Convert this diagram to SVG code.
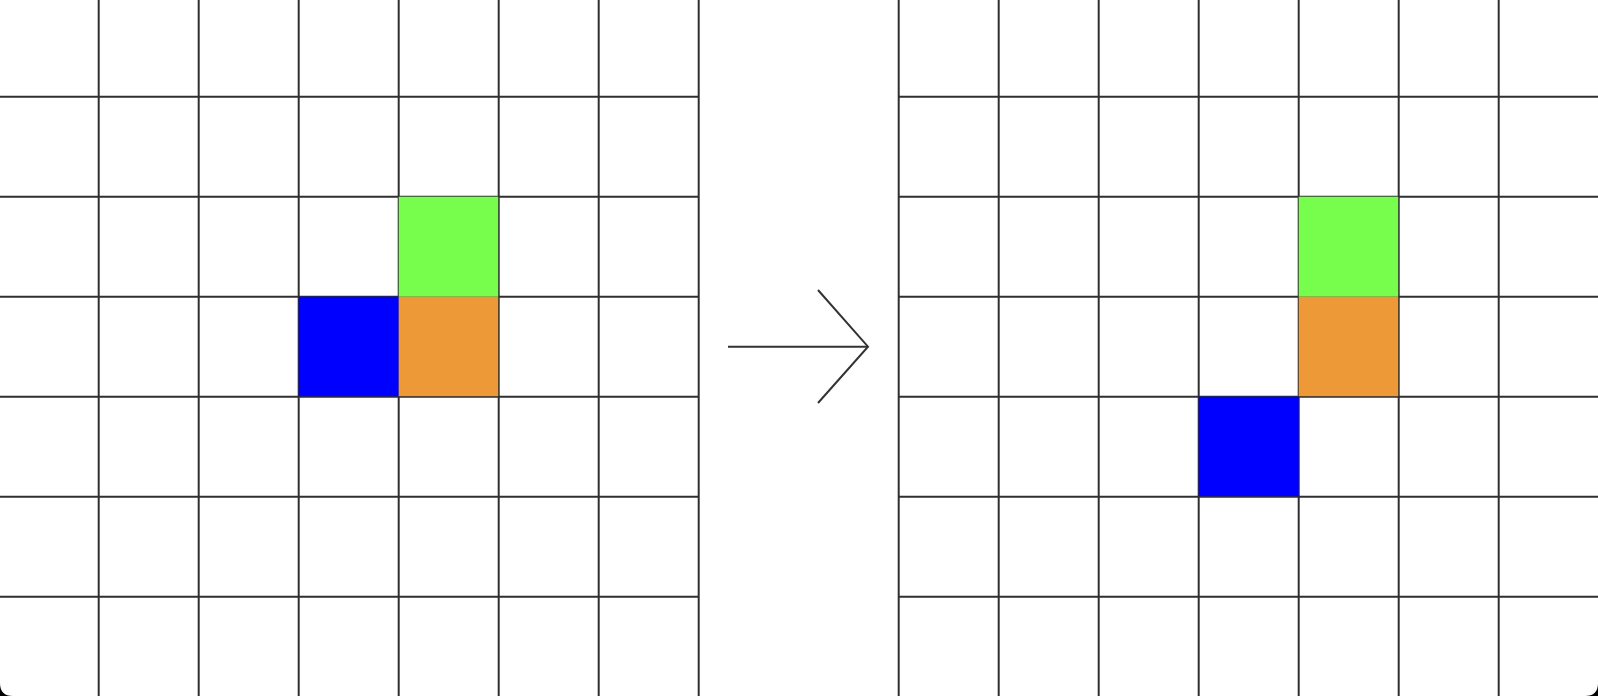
<svg xmlns="http://www.w3.org/2000/svg" width="1598" height="696" viewBox="0 0 1598 696">
<style>
.g line{stroke:#2f2f2f;stroke-width:2}
.arr{stroke:#333;stroke-width:2;fill:none}
.green{fill:#77FD4C}
.orange{fill:#EE9938}
.blue{fill:#0000FF}
</style>
<rect x="0" y="0" width="1598" height="696" fill="#000"/>
<path d="M0,0 H1598 V683 Q1598,696 1585,696 H13 Q0,696 0,683 Z" fill="#fff"/>
<g id="left-grid" class="g">
<line x1="-1.3" y1="0" x2="-1.3" y2="696"/>
<line x1="98.7" y1="0" x2="98.7" y2="696"/>
<line x1="198.7" y1="0" x2="198.7" y2="696"/>
<line x1="298.7" y1="0" x2="298.7" y2="696"/>
<line x1="398.7" y1="0" x2="398.7" y2="696"/>
<line x1="498.7" y1="0" x2="498.7" y2="696"/>
<line x1="598.7" y1="0" x2="598.7" y2="696"/>
<line x1="698.7" y1="0" x2="698.7" y2="696"/>
<line x1="0" y1="96.7" x2="698.7" y2="96.7"/>
<line x1="0" y1="196.7" x2="698.7" y2="196.7"/>
<line x1="0" y1="296.7" x2="698.7" y2="296.7"/>
<line x1="0" y1="396.7" x2="698.7" y2="396.7"/>
<line x1="0" y1="496.7" x2="698.7" y2="496.7"/>
<line x1="0" y1="596.7" x2="698.7" y2="596.7"/>
</g>
<g id="right-grid" class="g">
<line x1="898.7" y1="0" x2="898.7" y2="696"/>
<line x1="998.7" y1="0" x2="998.7" y2="696"/>
<line x1="1098.7" y1="0" x2="1098.7" y2="696"/>
<line x1="1198.7" y1="0" x2="1198.7" y2="696"/>
<line x1="1298.7" y1="0" x2="1298.7" y2="696"/>
<line x1="1398.7" y1="0" x2="1398.7" y2="696"/>
<line x1="1498.7" y1="0" x2="1498.7" y2="696"/>
<line x1="898.7" y1="96.7" x2="1598" y2="96.7"/>
<line x1="898.7" y1="196.7" x2="1598" y2="196.7"/>
<line x1="898.7" y1="296.7" x2="1598" y2="296.7"/>
<line x1="898.7" y1="396.7" x2="1598" y2="396.7"/>
<line x1="898.7" y1="496.7" x2="1598" y2="496.7"/>
<line x1="898.7" y1="596.7" x2="1598" y2="596.7"/>
</g>
<g id="left-cells">
<rect class="green" x="398.7" y="196.7" width="99.5" height="100"/>
<rect class="blue" x="298.7" y="296.7" width="100" height="99.5"/>
<rect class="orange" x="398.7" y="296.7" width="99.5" height="99.5"/>
</g>
<g id="right-cells">
<rect class="green" x="1298.7" y="196.7" width="99.5" height="100"/>
<rect class="orange" x="1298.7" y="296.7" width="99.5" height="99.5"/>
<rect class="blue" x="1198.7" y="396.7" width="100" height="99.5"/>
</g>
<g id="connectors">
<line class="arr" x1="728" y1="346.7" x2="868" y2="346.7"/>
<polyline class="arr" points="818,290 868,346.7 818,403"/>
</g>
</svg>
